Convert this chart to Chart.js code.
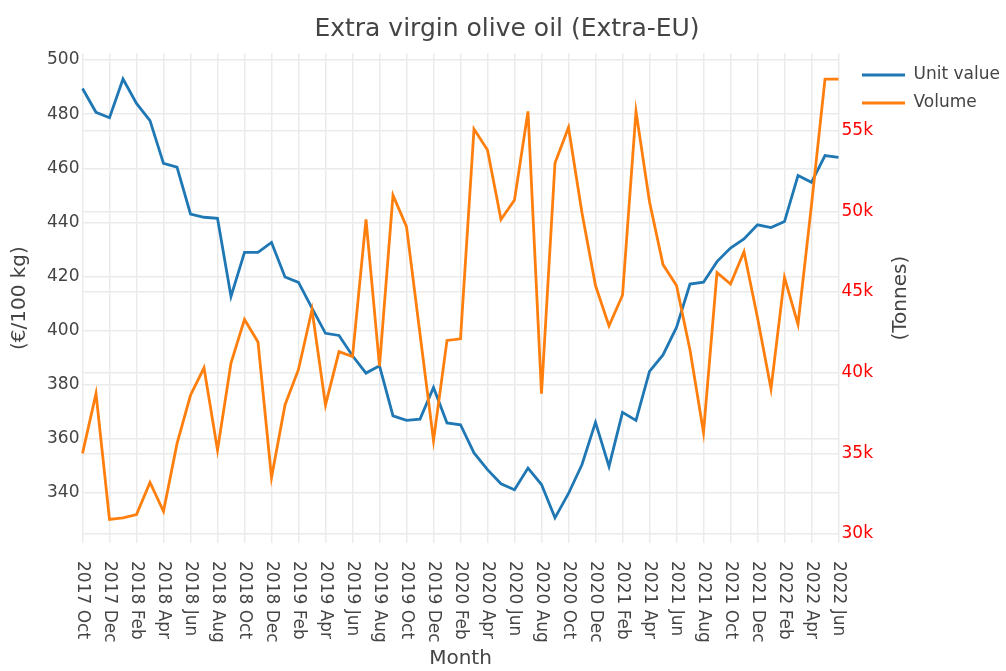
<!DOCTYPE html>
<html>
<head>
<meta charset="utf-8">
<title>Extra virgin olive oil (Extra-EU)</title>
<script src="https://cdn.jsdelivr.net/npm/chart.js@4.4.1/dist/chart.umd.min.js"></script>
<style>
  html, body { margin: 0; padding: 0; background: #fff; }
  #wrap { width: 1006px; height: 671px; }
</style>
</head>
<body>
<div id="wrap"><canvas id="oliveChart" width="1006" height="671"></canvas></div>
<script>
// monthly series, 2017 Oct .. 2022 Jun
var months = [
    '2017 Oct', '2017 Nov', '2017 Dec',
    '2018 Jan', '2018 Feb', '2018 Mar', '2018 Apr', '2018 May', '2018 Jun',
    '2018 Jul', '2018 Aug', '2018 Sep', '2018 Oct', '2018 Nov', '2018 Dec',
    '2019 Jan', '2019 Feb', '2019 Mar', '2019 Apr', '2019 May', '2019 Jun',
    '2019 Jul', '2019 Aug', '2019 Sep', '2019 Oct', '2019 Nov', '2019 Dec',
    '2020 Jan', '2020 Feb', '2020 Mar', '2020 Apr', '2020 May', '2020 Jun',
    '2020 Jul', '2020 Aug', '2020 Sep', '2020 Oct', '2020 Nov', '2020 Dec',
    '2021 Jan', '2021 Feb', '2021 Mar', '2021 Apr', '2021 May', '2021 Jun',
    '2021 Jul', '2021 Aug', '2021 Sep', '2021 Oct', '2021 Nov', '2021 Dec',
    '2022 Jan', '2022 Feb', '2022 Mar', '2022 Apr', '2022 May', '2022 Jun'
];

// €/100 kg
var unitValue = [
    489.5, 480.7, 478.7,
    493.0, 484.0, 477.6, 461.8, 460.4, 443.1, 441.9, 441.5, 412.6, 428.9, 428.9, 432.6,
    419.8, 417.8, 408.3, 399.0, 398.2, 390.7, 384.3, 387.0, 368.5, 366.8, 367.3, 379.0,
    365.9, 365.2, 354.8, 348.6, 343.4, 341.2, 349.2, 343.1, 330.8, 339.8, 350.5, 366.1,
    349.8, 369.8, 366.8, 384.9, 391.0, 401.2, 417.2, 417.9, 425.5, 430.5, 433.9, 439.1,
    438.1, 440.3, 457.3, 454.8, 464.7, 464.0
];

// tonnes
var volume = [
    35000, 38700, 30900,
    31000, 31200, 33200, 31400, 35600, 38600, 40300, 35200, 40600, 43300, 41900, 33500,
    38000, 40200, 43900, 38000, 41300, 41000, 49500, 40400, 51000, 49050, 42400, 35800,
    42000, 42100, 55100, 53800, 49500, 50700, 56200, 38700, 53000, 55200, 49900, 45400,
    42900, 44800, 56200, 50600, 46700, 45400, 41400, 36300, 46200, 45500, 47500, 43400,
    39000, 45900, 43000, 50400, 58200, 58200
];

var unitTicks = [340, 360, 380, 400, 420, 440, 460, 480, 500];
var volumeTicks = [30000, 35000, 40000, 45000, 50000, 55000];

var seriesNames = ['Unit value', 'Volume'];
var seriesColors = ['#1f77b4', '#ff7f0e'];

var textColor = '#444';
var gridColor = '#ebebeb';
var fontFamily = "'DejaVu Sans', Verdana, sans-serif";

Chart.defaults.font.family = fontFamily;
Chart.defaults.color = textColor;

// draws the rotated month labels, the right axis title and the legend
var extrasPlugin = {
    id: 'extras',
    afterDraw: function(chart) {
        var ctx = chart.ctx;
        var area = chart.chartArea;
        var xs = chart.scales.x;

        ctx.save();
        ctx.fillStyle = textColor;
        ctx.font = '17px ' + fontFamily;
        ctx.textAlign = 'left';
        ctx.textBaseline = 'middle';
        months.forEach(function(m, i) {
            if (i % 2 !== 0) return;
            var px = xs.getPixelForValue(i);
            ctx.save();
            ctx.translate(px, area.bottom + 18);
            ctx.rotate(Math.PI / 2);
            ctx.fillText(m, 0, 0);
            ctx.restore();
        });

        ctx.font = '20px ' + fontFamily;
        ctx.textAlign = 'center';
        ctx.save();
        ctx.translate(area.right + 62.5, (area.top + area.bottom) / 2);
        ctx.rotate(-Math.PI / 2);
        ctx.fillText('(Tonnes)', 0, 0);
        ctx.restore();

        ctx.font = '17px ' + fontFamily;
        ctx.textAlign = 'left';
        seriesNames.forEach(function(name, i) {
            var ly = area.top + 21.7 + i * 28;
            ctx.strokeStyle = seriesColors[i];
            ctx.lineWidth = 2.8;
            ctx.beginPath();
            ctx.moveTo(area.right + 23.5, ly);
            ctx.lineTo(area.right + 66.5, ly);
            ctx.stroke();
            ctx.fillText(name, area.right + 75, ly);
        });
        ctx.restore();
    }
};

var ctx = document.getElementById('oliveChart').getContext('2d');
var oliveChart = new Chart(ctx, {
    type: 'line',
    data: {
        labels: months,
        datasets: [{
            label: seriesNames[0],
            data: unitValue,
            yAxisID: 'y',
            borderColor: seriesColors[0],
            backgroundColor: seriesColors[0],
            borderWidth: 2.8,
            pointRadius: 0,
            tension: 0,
            order: 1
        }, {
            label: seriesNames[1],
            data: volume,
            yAxisID: 'y1',
            borderColor: seriesColors[1],
            backgroundColor: seriesColors[1],
            borderWidth: 2.8,
            pointRadius: 0,
            tension: 0,
            order: 0
        }]
    },
    options: {
        responsive: false,
        animation: false,
        layout: {
            padding: { left: 8, right: 0, top: 0, bottom: 0 }
        },
        plugins: {
            legend: { display: false },
            tooltip: { enabled: false },
            title: {
                display: true,
                text: 'Extra virgin olive oil (Extra-EU)',
                color: textColor,
                font: { size: 25, weight: 'normal' },
                padding: { top: 14, bottom: 9.3 }
            }
        },
        scales: {
            x: {
                type: 'category',
                offset: false,
                border: { display: false },
                grid: {
                    color: function(c) { return c.index % 2 === 0 ? gridColor : 'rgba(0,0,0,0)'; },
                    lineWidth: 1.5,
                    drawTicks: false
                },
                ticks: { display: false, autoSkip: false },
                title: {
                    display: true,
                    text: 'Month',
                    color: textColor,
                    font: { size: 20 },
                    padding: { top: 0, bottom: 0 }
                },
                afterFit: function(scale) { scale.height = 128; }
            },
            y: {
                position: 'left',
                min: 321.5,
                max: 502.5,
                border: { display: false },
                grid: { color: gridColor, lineWidth: 1.5, drawTicks: false },
                afterBuildTicks: function(scale) {
                    scale.ticks = unitTicks.map(function(v) { return { value: v }; });
                },
                ticks: {
                    color: textColor,
                    font: { size: 17 },
                    padding: 3
                },
                title: {
                    display: true,
                    text: '(€/100 kg)',
                    color: textColor,
                    font: { size: 20 },
                    padding: { top: 0, bottom: 0 }
                },
                afterFit: function(scale) { scale.width = 74.5; }
            },
            y1: {
                position: 'right',
                min: 29440,
                max: 59800,
                border: { display: false },
                grid: { color: gridColor, lineWidth: 1.5, drawTicks: false },
                afterBuildTicks: function(scale) {
                    scale.ticks = volumeTicks.map(function(v) { return { value: v }; });
                },
                ticks: {
                    color: '#ff0000',
                    font: { size: 17 },
                    padding: 3,
                    callback: function(v) { return (v / 1000) + 'k'; }
                },
                afterFit: function(scale) { scale.width = 167.5; }
            }
        }
    },
    plugins: [extrasPlugin]
});
</script>
</body>
</html>
